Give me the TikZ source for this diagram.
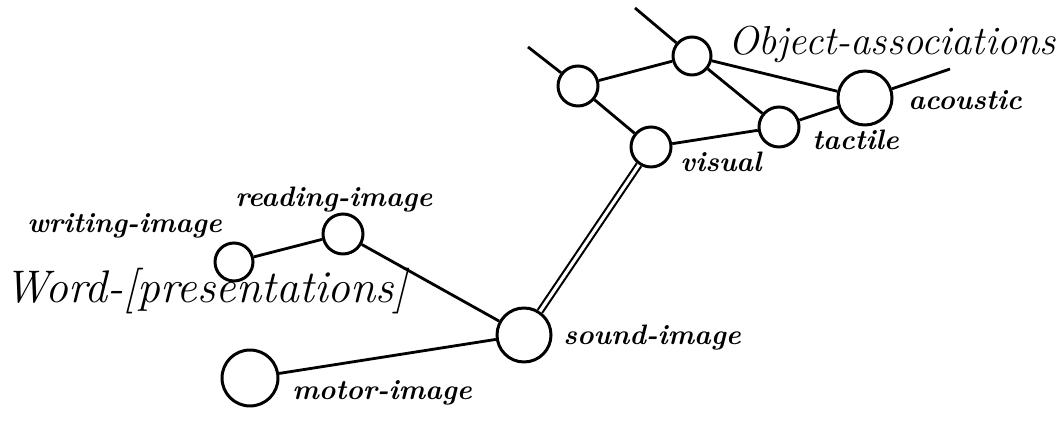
\documentclass[tikz,border=0pt]{standalone}
\usetikzlibrary{positioning}

\begin{document}
\begin{tikzpicture}[x=0.02cm,y=-0.02cm,
  ring/.style={circle,draw,line width=1.7pt,inner sep=0pt,minimum size=#1},
  ring/.default=0.8cm,
  tag/.style={font=\bfseries\itshape\fontsize{16}{16}\selectfont,anchor=base west,inner sep=0pt},
  head/.style={font=\itshape\fontsize{#1}{#1}\selectfont,anchor=base west,inner sep=0pt},
  link/.style={line width=1.6pt}]
\useasboundingbox (0,0) rectangle (1064,421);
% object side
\node[ring] (ul) at (578,86) {};\node[ring=0.76cm] (um) at (692,56) {};
\node[ring] (vis) at (651,147) {};\node[ring] (tac) at (779,127) {};
\node[ring=1.08cm] (aco) at (865,98) {};
\coordinate (ulEnd) at (528,47);\coordinate (umEnd) at (635,8);\coordinate (acoEnd) at (950,69);
% word side
\node[ring] (read) at (343,234) {};\node[ring=0.76cm] (writ) at (234,262) {};
\node[ring=1.08cm] (sound) at (524,335) {};\node[ring=1.12cm] (motor) at (250,378) {};
% links
\draw[link] (ulEnd)--(ul)--(um)--(umEnd);\draw[link] (ul)--(vis)--(tac)--(aco)--(acoEnd);
\draw[link] (um)--(tac);\draw[link] (um)--(aco);
\draw[line width=1.2pt,double,double distance=1.8pt] (sound)--(vis);
\draw[link] (writ)--(read)--(sound)--(motor);
% texts
\node[head=23] (objT) at (728,55) {Object-associations};
\node[head=26] (wordT) at (4,303) {Word-[presentations]};
\node[tag] (acoT) at (908,110) {acoustic};\node[tag] (tacT) at (812,150) {tactile};
\node[tag] (visT) at (680,172) {visual};\node[tag] (readT) at (235,207) {reading-image};
\node[tag] (writT) at (27,233) {writing-image};\node[tag] (soundT) at (563,345) {sound-image};
\node[tag] (motorT) at (292,400) {motor-image};
\end{tikzpicture}
\end{document}
